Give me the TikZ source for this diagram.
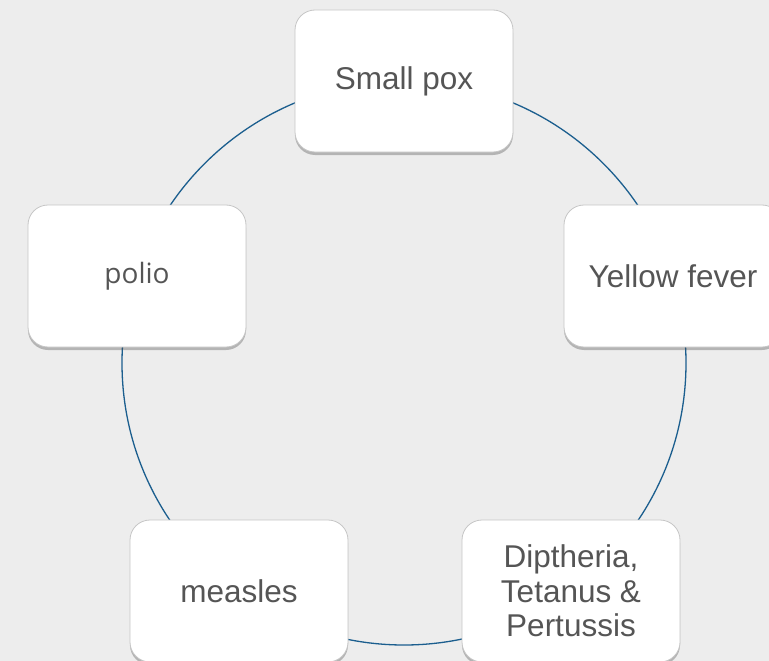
\documentclass[tikz,border=0pt]{standalone}
\usepackage{fontspec}
\setmainfont{Liberation Sans}
\newfontfamily\polfont{Open Sans}
\usetikzlibrary{shadows}
\definecolor{bgc}{HTML}{EDEDED}
\definecolor{ringc}{HTML}{1B5E8E}
\definecolor{txtc}{HTML}{555555}
\tikzset{
  vbox/.style={draw=gray!45, line width=0.8pt, fill=white, rounded corners=20pt,
    minimum width=218pt, minimum height=142pt, inner sep=0pt, align=center,
    text=txtc, font=\fontsize{31.5}{34.5}\selectfont,
    drop shadow={shadow xshift=0pt, shadow yshift=-3pt, opacity=0.35, fill=black!70}},
  ring/.style={draw=ringc, line width=1.3pt}
}
\begin{document}
\begin{tikzpicture}[x=1pt,y=-1pt]
\fill[bgc] (0,0) rectangle (769,661);
\useasboundingbox (0,0) rectangle (769,661);
\coordinate (c) at (404,363);
\draw[ring] (c) circle (282pt);
\node[vbox] (smallpox) at (404,81) {Small pox};
\node[vbox] (yellow) at (673,276) {Yellow fever};
\node[vbox] (dtp) at (571,591) {Diptheria,\\Tetanus \&\\Pertussis};
\node[vbox] (measles) at (239,591) {measles};
\node[vbox, font=\polfont\fontsize{28}{32}\selectfont] (polio) at (137,276) {polio};
\end{tikzpicture}
\end{document}
